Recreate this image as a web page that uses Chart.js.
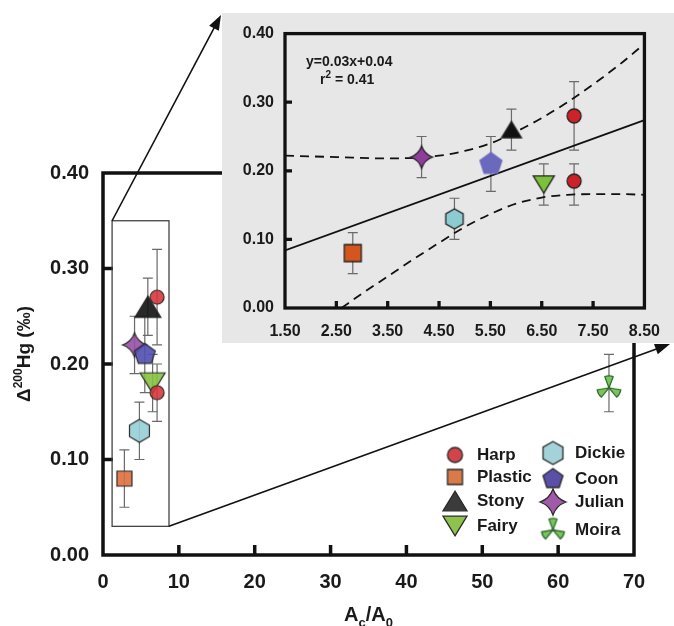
<!DOCTYPE html>
<html>
<head>
<meta charset="utf-8">
<script src="https://cdn.jsdelivr.net/npm/chart.js@4/dist/chart.umd.min.js"></script>
<style>
  html, body { margin: 0; padding: 0; background: #fff; }
  #wrap { position: relative; width: 674px; height: 626px; overflow: hidden; }
  #main { position: absolute; left: 0; top: 0; }
  #insetBox { position: absolute; left: 222px; top: 13px; width: 452px; height: 330px; background: #e7e7e7; }
  #inset { display: block; }
</style>
</head>
<body>
<div id="wrap">
  <canvas id="main" width="674" height="626"></canvas>
  <div id="insetBox"><canvas id="inset" width="452" height="330"></canvas></div>
</div>
<script>
const siteNames = ['Harp', 'Plastic', 'Stony', 'Fairy', 'Dickie', 'Coon', 'Julian', 'Moira'];

// one entry per plotted point (Harp was sampled twice)
const pointSite = ['Harp', 'Harp', 'Plastic', 'Stony', 'Fairy', 'Dickie', 'Coon', 'Julian', 'Moira'];
const pointX    = [7.13, 7.13, 2.82, 5.91, 6.54, 4.80, 5.51, 4.16, 66.7];
const mainY     = [0.27, 0.17, 0.08, 0.26, 0.18, 0.13, 0.21, 0.22, 0.175];
const mainLow   = [0.22, 0.14, 0.05, 0.23, 0.15, 0.10, 0.17, 0.19, 0.15];
const mainHigh  = [0.32, 0.20, 0.11, 0.29, 0.21, 0.16, 0.25, 0.25, 0.21];
const insetY    = [0.28, 0.185, 0.08, 0.26, 0.18, 0.13, 0.21, 0.22, null];
const insetLow  = [0.23, 0.15, 0.05, 0.23, 0.15, 0.10, 0.17, 0.19, null];
const insetHigh = [0.33, 0.21, 0.11, 0.29, 0.21, 0.16, 0.25, 0.25, null];

// regression line and its dashed band in the zoomed panel
const fitX = [1.5, 8.5];
const fitY = [0.084, 0.274];
const upperX = [1.5, 2.5, 3.5, 4.5, 5.0, 5.5, 6.0, 6.5, 7.0, 7.5, 8.0, 8.5];
const upperY = [0.222, 0.220, 0.218, 0.222, 0.229, 0.240, 0.257, 0.277, 0.300, 0.326, 0.354, 0.385];
const lowerX = [2.6, 3.0, 3.5, 4.0, 4.5, 5.0, 5.5, 6.0, 6.5, 7.0, 7.5, 8.0, 8.5];
const lowerY = [0.0, 0.021, 0.046, 0.071, 0.095, 0.118, 0.137, 0.152, 0.161, 0.165, 0.166, 0.166, 0.165];

const mainXTicks = [0, 10, 20, 30, 40, 50, 60, 70];
const mainYTicks = [0, 0.1, 0.2, 0.3, 0.4];
const insetXTicks = [1.5, 2.5, 3.5, 4.5, 5.5, 6.5, 7.5, 8.5];
const insetYTicks = [0, 0.1, 0.2, 0.3, 0.4];

// region of the main plot that is blown up in the inset
const zoomBoxX = [1.2, 8.7];
const zoomBoxY = [0.03, 0.35];

const FONT = '"Liberation Sans", Arial, Helvetica, sans-serif';
const INK = '#1a1a1a';

const siteShapes = ['circle', 'square', 'triUp', 'triDown', 'hexagon', 'pentagon', 'star4', 'trefoil'];
const mainFills = ['rgba(214,50,55,0.88)', 'rgba(222,112,62,0.9)', 'rgba(22,22,22,0.92)', 'rgba(132,194,62,0.9)',
  'rgba(150,206,214,0.9)', 'rgba(80,78,176,0.9)', 'rgba(152,80,166,0.9)', '#7cc45a'];
const insetFills = ['#cf2129', '#d4561e', '#111111', '#7dc13b', '#8ccbd0', '#6a69be', '#8f3d9b', '#7cc45a'];
const legendFills = ['#d1454a', '#d97b48', '#3b3b3b', '#8dc24c', '#a3d3d9', '#5a50a8', '#a05aa8', '#7cc45a'];
const mainSize = { circle: 14, square: 15, triUp: 26, triDown: 25, hexagon: 23, pentagon: 22, star4: 24, trefoil: 24 };
const insetSize = { circle: 14, square: 17, triUp: 20, triDown: 21, hexagon: 20, pentagon: 23, star4: 22, trefoil: 20 };
const legendSize = { circle: 15, square: 15, triUp: 24, triDown: 24, hexagon: 23, pentagon: 21, star4: 26, trefoil: 23 };

function makeMarker(shape, size, fill, stroke, lw) {
  const c = document.createElement('canvas');
  const w = Math.ceil(size) + 6;
  c.width = w; c.height = w;
  const g = c.getContext('2d');
  const m = w / 2, r = size / 2;
  g.fillStyle = fill; g.strokeStyle = stroke; g.lineWidth = lw;
  g.beginPath();
  if (shape === 'circle') {
    g.arc(m, m, r, 0, Math.PI * 2);
  } else if (shape === 'square') {
    g.rect(m - r, m - r, size, size);
  } else if (shape === 'triUp' || shape === 'triDown') {
    const h = size * 0.82, s = shape === 'triUp' ? 1 : -1;
    g.moveTo(m, m - s * h / 2);
    g.lineTo(m + r, m + s * h / 2);
    g.lineTo(m - r, m + s * h / 2);
    g.closePath();
  } else if (shape === 'hexagon' || shape === 'pentagon') {
    const n = shape === 'hexagon' ? 6 : 5;
    for (let k = 0; k < n; k++) {
      const a = -Math.PI / 2 + k * 2 * Math.PI / n;
      g.lineTo(m + r * Math.cos(a), m + r * Math.sin(a));
    }
    g.closePath();
  } else if (shape === 'star4') {
    const k = r * 0.26;
    g.moveTo(m, m - r);
    g.quadraticCurveTo(m + k, m - k, m + r, m);
    g.quadraticCurveTo(m + k, m + k, m, m + r);
    g.quadraticCurveTo(m - k, m + k, m - r, m);
    g.quadraticCurveTo(m - k, m - k, m, m - r);
    g.closePath();
  } else if (shape === 'trefoil') {
    // three blades joined at the centre, widening outward
    [-90, 30, 150].forEach(d => {
      const a = d * Math.PI / 180, h = 0.36;
      g.moveTo(m, m);
      g.lineTo(m + r * Math.cos(a - h), m + r * Math.sin(a - h));
      g.quadraticCurveTo(m + r * 1.08 * Math.cos(a), m + r * 1.08 * Math.sin(a),
        m + r * Math.cos(a + h), m + r * Math.sin(a + h));
      g.closePath();
    });
  }
  g.fill();
  if (lw > 0) g.stroke();
  return c;
}

function strokeFor(i) { return siteNames[i] === 'Moira' ? '#2b6a2b' : '#2a2a2a'; }

function pointsFor(site, ys) {
  const out = [];
  pointSite.forEach((s, i) => {
    if (s === site && ys[i] != null) out.push({ x: pointX[i], y: ys[i] });
  });
  return out;
}

function runs(ctx, parts, x, y, align) {
  let total = 0;
  parts.forEach(p => { ctx.font = `bold ${p[1]}px ${FONT}`; total += ctx.measureText(p[0]).width; });
  let cx = align === 'center' ? x - total / 2 : x;
  parts.forEach(p => {
    ctx.font = `bold ${p[1]}px ${FONT}`;
    ctx.fillText(p[0], cx, y + p[2]);
    cx += ctx.measureText(p[0]).width;
  });
}

function errorBars(id, ys, lows, highs, cap) {
  return {
    id,
    beforeDatasetsDraw(chart) {
      const { ctx, chartArea: a, scales: { x, y } } = chart;
      ctx.save();
      ctx.strokeStyle = '#6a6a6a';
      ctx.lineWidth = 1.2;
      pointX.forEach((v, i) => {
        if (ys[i] == null) return;
        const px = x.getPixelForValue(v);
        if (px < a.left || px > a.right) return;
        const lo = y.getPixelForValue(lows[i]), hi = y.getPixelForValue(highs[i]);
        ctx.beginPath();
        ctx.moveTo(px, lo); ctx.lineTo(px, hi);
        ctx.moveTo(px - cap, lo); ctx.lineTo(px + cap, lo);
        ctx.moveTo(px - cap, hi); ctx.lineTo(px + cap, hi);
        ctx.stroke();
      });
      ctx.restore();
    }
  };
}

// closed box round the plot plus short ticks pointing inward
function frame(id, lw, tickLen) {
  return {
    id,
    afterDatasetsDraw(chart) {
      const { ctx, chartArea: a, scales: { x, y } } = chart;
      ctx.save();
      ctx.strokeStyle = '#111';
      ctx.lineWidth = lw;
      ctx.strokeRect(a.left, a.top, a.right - a.left, a.bottom - a.top);
      ctx.beginPath();
      x.ticks.slice(1, -1).forEach(t => {
        const px = x.getPixelForValue(t.value);
        ctx.moveTo(px, a.bottom); ctx.lineTo(px, a.bottom - tickLen);
      });
      y.ticks.slice(1, -1).forEach(t => {
        const py = y.getPixelForValue(t.value);
        ctx.moveTo(a.left, py); ctx.lineTo(a.left + tickLen, py);
      });
      ctx.stroke();
      ctx.restore();
    }
  };
}

function arrow(ctx, x0, y0, x1, y1) {
  const ang = Math.atan2(y1 - y0, x1 - x0), L = 15, W = 5.5;
  ctx.beginPath();
  ctx.moveTo(x0, y0);
  ctx.lineTo(x1 - (L - 2) * Math.cos(ang), y1 - (L - 2) * Math.sin(ang));
  ctx.stroke();
  ctx.beginPath();
  ctx.moveTo(x1, y1);
  ctx.lineTo(x1 - L * Math.cos(ang) + W * Math.sin(ang), y1 - L * Math.sin(ang) - W * Math.cos(ang));
  ctx.lineTo(x1 - L * Math.cos(ang) - W * Math.sin(ang), y1 - L * Math.sin(ang) + W * Math.cos(ang));
  ctx.closePath();
  ctx.fill();
}

const mainDecor = {
  id: 'mainDecor',
  afterDraw(chart) {
    const { ctx, chartArea: a, scales: { x, y } } = chart;
    ctx.save();
    ctx.fillStyle = INK;
    ctx.textBaseline = 'alphabetic';

    // axis titles
    runs(ctx, [['A', 20, 0], ['c', 13, 6], ['/A', 20, 0], ['0', 13, 6]], (a.left + a.right) / 2, 621, 'center');
    ctx.save();
    ctx.translate(30, 354);
    ctx.rotate(-Math.PI / 2);
    runs(ctx, [['\u0394', 19, 0], ['200', 12, -8], ['Hg (\u2030)', 19, 0]], 0, 0, 'center');
    ctx.restore();

    // zoom box and the arrows out to the inset
    const bx0 = x.getPixelForValue(zoomBoxX[0]), bx1 = x.getPixelForValue(zoomBoxX[1]);
    const by0 = y.getPixelForValue(zoomBoxY[1]), by1 = y.getPixelForValue(zoomBoxY[0]);
    ctx.strokeStyle = '#444';
    ctx.lineWidth = 1.3;
    ctx.strokeRect(bx0, by0, bx1 - bx0, by1 - by0);

    const box = document.getElementById('insetBox');
    const L = box.offsetLeft, T = box.offsetTop, W = box.offsetWidth, H = box.offsetHeight;
    ctx.strokeStyle = '#111';
    ctx.fillStyle = '#111';
    ctx.lineWidth = 1.6;
    arrow(ctx, bx0, by0, L - 1, T + 2);
    arrow(ctx, bx1, by1, L + W - 4, T + H + 1);

    // legend, two columns
    const cols = [
      { mx: a.right - 179, tx: a.right - 157, rows: [100, 78, 54, 29], sites: [0, 1, 2, 3] },
      { mx: a.right - 81, tx: a.right - 59, rows: [102, 76, 53, 25], sites: [4, 5, 6, 7] }
    ];
    ctx.font = `bold 17px ${FONT}`;
    ctx.textBaseline = 'middle';
    ctx.fillStyle = INK;
    cols.forEach(c => {
      c.sites.forEach((si, k) => {
        const ry = a.bottom - c.rows[k];
        const shape = siteShapes[si];
        const img = makeMarker(shape, legendSize[shape], legendFills[si], strokeFor(si), 1.3);
        ctx.drawImage(img, c.mx - img.width / 2, ry - img.height / 2);
        ctx.fillText(siteNames[si], c.tx, ry);
      });
    });
    ctx.restore();
  }
};

const insetDecor = {
  id: 'insetDecor',
  afterDraw(chart) {
    const { ctx, chartArea: a } = chart;
    ctx.save();
    ctx.fillStyle = INK;
    ctx.textBaseline = 'alphabetic';
    runs(ctx, [['y=0.03x+0.04', 14, 0]], a.left + 21, a.top + 32, 'left');
    runs(ctx, [['r', 14, 0], ['2', 10, -6], [' = 0.41', 14, 0]], a.left + 35, a.top + 50, 'left');
    ctx.restore();
  }
};

function fixedTicks(list) {
  return s => { s.ticks = list.map(v => ({ value: v })); };
}

function scaleOpts(min, max, list, size, pad, fmt, fit) {
  return {
    type: 'linear', min, max,
    afterBuildTicks: fixedTicks(list),
    afterFit: fit,
    grid: { display: false, drawTicks: false },
    border: { display: false },
    ticks: {
      autoSkip: false, maxRotation: 0, padding: pad, color: INK,
      font: { size, weight: 'bold', family: FONT },
      callback: fmt
    }
  };
}

Chart.defaults.font.family = FONT;

// main panel
const mainSets = siteNames.map((site, i) => {
  const shape = siteShapes[i];
  return {
    label: site,
    data: pointsFor(site, mainY),
    pointStyle: makeMarker(shape, mainSize[shape], mainFills[i], strokeFor(i), 1.2),
    pointRadius: 6
  };
});

new Chart(document.getElementById('main'), {
  type: 'scatter',
  data: { datasets: mainSets },
  options: {
    responsive: false,
    animation: false,
    events: [],
    layout: { padding: { top: 173, right: 40, left: 0, bottom: 0 } },
    plugins: { legend: { display: false }, tooltip: { enabled: false } },
    scales: {
      x: scaleOpts(0, 70, mainXTicks, 20, 15, v => String(v), s => { s.height = 71; }),
      y: scaleOpts(0, 0.4, mainYTicks, 20, 14, v => v.toFixed(2), s => { s.width = 103; })
    }
  },
  plugins: [errorBars('mainErr', mainY, mainLow, mainHigh, 5), frame('mainFrame', 3.5, 10), mainDecor]
});

// zoomed panel
const insetSets = siteNames.slice(0, 7).map((site, i) => {
  const shape = siteShapes[i];
  const stroke = site === 'Coon' ? insetFills[i] : '#222';
  return {
    label: site,
    data: pointsFor(site, insetY),
    pointStyle: makeMarker(shape, insetSize[shape], insetFills[i], stroke, 1.3),
    pointRadius: 6
  };
});

const lineSet = (xs, ys, dash) => ({
  data: xs.map((v, i) => ({ x: v, y: ys[i] })),
  showLine: true,
  borderColor: '#111',
  borderWidth: 1.8,
  borderDash: dash,
  pointRadius: 0,
  cubicInterpolationMode: 'monotone'
});

new Chart(document.getElementById('inset'), {
  type: 'scatter',
  data: {
    datasets: insetSets.concat([
      lineSet(fitX, fitY, []),
      lineSet(upperX, upperY, [9, 6]),
      lineSet(lowerX, lowerY, [9, 6])
    ])
  },
  options: {
    responsive: false,
    animation: false,
    events: [],
    layout: { padding: { top: 10, right: 19, left: 0, bottom: 0 } },
    plugins: { legend: { display: false }, tooltip: { enabled: false } },
    scales: {
      x: scaleOpts(1.5, 8.5, insetXTicks, 16, 14, v => v.toFixed(2), s => { s.height = 35; }),
      y: scaleOpts(0, 0.4, insetYTicks, 16, 11, v => v.toFixed(2), s => { s.width = 63; })
    }
  },
  plugins: [errorBars('insetErr', insetY, insetLow, insetHigh, 5), frame('insetFrame', 3.3, 7), insetDecor]
});
</script>
</body>
</html>
